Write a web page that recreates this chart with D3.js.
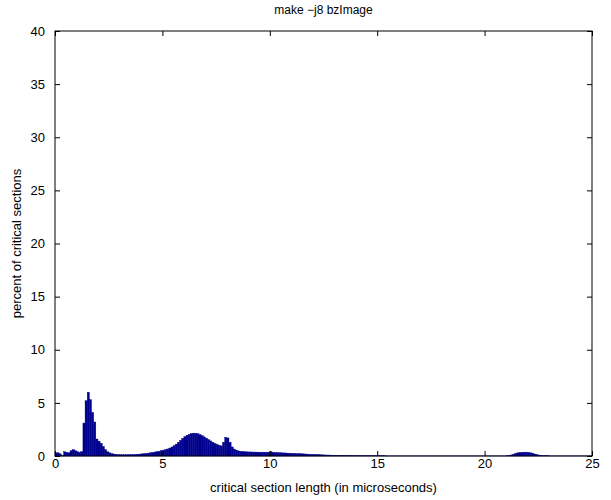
<!DOCTYPE html>
<html>
<head>
<meta charset="utf-8">
<script src="https://cdn.jsdelivr.net/npm/d3@7"></script>
<style>
  body{margin:0;background:#fff;}
  text{font-family:"Liberation Sans",Arial,Helvetica,sans-serif;fill:#000;}
</style>
</head>
<body>
<div id="chart"></div>
<script>
const title = "make \u2212j8 bzImage";
const xLabel = "critical section length (in microseconds)";
const yLabel = "percent of critical sections";
const xTicks = [0,5,10,15,20,25];
const yTicks = [0,5,10,15,20,25,30,35,40];
const binWidth = 0.1;
// percent per 0.1 us bin, starting at 0
const pct = [
  0.3,0.3,0.2,0.05,0.4,0.35,0.3,0.5,0.6,0.5,
  0.4,0.35,0.4,3.1,5.2,6.0,5.3,4.1,3.2,1.6,
  1.4,1.2,0.9,0.6,0.4,0.3,0.22,0.18,0.15,0.13,
  0.12,0.12,0.12,0.12,0.13,0.13,0.14,0.15,0.16,0.18,
  0.2,0.22,0.24,0.27,0.3,0.33,0.37,0.41,0.45,0.5,
  0.55,0.6,0.66,0.75,0.85,0.98,1.12,1.3,1.48,1.66,
  1.82,1.95,2.05,2.12,2.15,2.14,2.1,2.02,1.92,1.8,
  1.68,1.55,1.42,1.3,1.18,1.08,1.0,0.95,1.3,1.75,
  1.7,1.3,0.85,0.65,0.55,0.48,0.44,0.42,0.4,0.39,
  0.38,0.38,0.37,0.37,0.36,0.36,0.36,0.36,0.35,0.36,
  0.4,0.35,0.33,0.32,0.31,0.3,0.29,0.28,0.27,0.26,
  0.25,0.24,0.23,0.22,0.21,0.2,0.19,0.18,0.17,0.16,
  0.15,0.14,0.13,0.12,0.11,0.1,0.09,0.09,0.08,0.07,
  0.07,0.06,0.06,0.05,0.05,0.05,0.04,0.04,0.04,0.03,
  0.03,0.03,0.03,0.02,0.02,0.02,0.02,0.02,0.02,0.02,
  0.02,0.02,0.02,0.02,0.01,0.01,0.01,0.01,0.01,0.01,
  0.01,0.01,0.01,0.01,0.01,0.01,0.01,0.01,0.01,0.01,
  0.01,0.01,0.01,0.01,0.01,0.01,0.01,0.01,0.01,0.01,
  0.01,0.01,0.01,0.01,0.01,0.01,0.01,0.01,0.01,0.01,
  0.01,0.01,0.01,0.01,0.01,0.01,0.01,0.01,0.01,0.01,
  0.01,0.01,0.01,0.01,0.01,0.01,0.01,0.01,0.01,0.01,
  0.02,0.05,0.1,0.17,0.24,0.3,0.33,0.35,0.36,0.36,
  0.34,0.3,0.25,0.18,0.12,0.08,0.05,0.03,0.02,0.02,
  0.01,0.01,0.01,0.01,0.01,0.01,0.01,0.01,0.01,0.01,
  0.01,0.01,0.01,0.01,0.01,0.01,0.01,0.01,0.01,0.01
];

const width = 611, height = 500;
const m = {left:55, right:19, top:31, bottom:44};
const svg = d3.select("#chart").append("svg")
  .attr("width", width).attr("height", height);

const x = d3.scaleLinear().domain([0,25]).range([m.left, width-m.right]);
const y = d3.scaleLinear().domain([0,40]).range([height-m.bottom, m.top]);

// bars
svg.append("g").selectAll("rect")
  .data(pct).enter().append("rect")
  .attr("x", (d,i)=>x(i*binWidth))
  .attr("width", x(binWidth)-x(0))
  .attr("y", d=>y(d))
  .attr("height", d=>y(0)-y(d))
  .attr("fill", "#00008f")
  .attr("stroke", "#000088")
  .attr("stroke-width", 0.4);

const tl = 5;
const fs = "13px";
// bottom & top axes (ticks inside)
svg.append("g").attr("transform", `translate(0,${y(0)})`)
  .call(d3.axisBottom(x).tickValues(xTicks).tickSizeInner(-tl).tickSizeOuter(0).tickPadding(3))
  .call(g=>g.selectAll("text").attr("font-size", fs))
  .call(g=>g.select(".domain").remove());
svg.append("g").attr("transform", `translate(0,${y(40)})`)
  .call(d3.axisTop(x).tickValues(xTicks).tickSizeInner(-tl).tickSizeOuter(0).tickFormat(""))
  .call(g=>g.select(".domain").remove());
svg.append("g").attr("transform", `translate(${x(0)},0)`)
  .call(d3.axisLeft(y).tickValues(yTicks).tickSizeInner(-tl).tickSizeOuter(0).tickPadding(10))
  .call(g=>g.selectAll("text").attr("font-size", fs))
  .call(g=>g.select(".domain").remove());
svg.append("g").attr("transform", `translate(${x(25)},0)`)
  .call(d3.axisRight(y).tickValues(yTicks).tickSizeInner(-tl).tickSizeOuter(0).tickFormat(""))
  .call(g=>g.select(".domain").remove());

// box
svg.append("rect")
  .attr("x", x(0)).attr("y", y(40))
  .attr("width", x(25)-x(0)).attr("height", y(0)-y(40))
  .attr("fill", "none").attr("stroke", "#000").attr("stroke-width", 1);

svg.append("text").attr("x", (x(0)+x(25))/2).attr("y", 14)
  .attr("text-anchor", "middle").attr("font-size", "12px").text(title);
svg.append("text").attr("x", (x(0)+x(25))/2).attr("y", 492)
  .attr("text-anchor", "middle").attr("font-size", "13px").text(xLabel);
svg.append("text")
  .attr("transform", `translate(21,${(y(0)+y(40))/2}) rotate(-90)`)
  .attr("text-anchor", "middle").attr("font-size", "13px").text(yLabel);
</script>
</body>
</html>
